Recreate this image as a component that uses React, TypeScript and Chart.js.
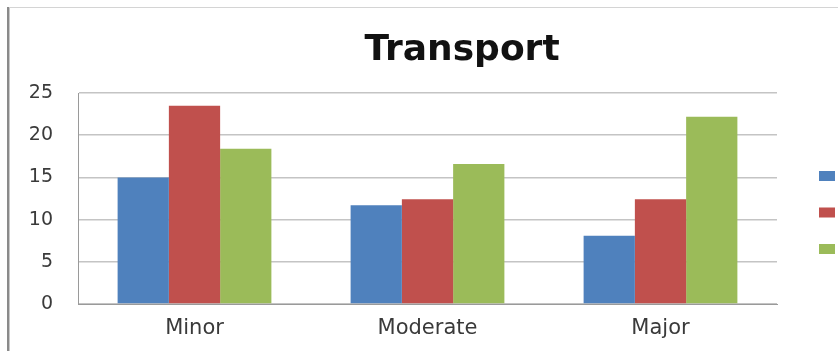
import React, { useEffect, useRef } from "react";
import { Chart, registerables } from "chart.js";

Chart.register(...registerables);

const title = "Transport";
const categories = ["Minor", "Moderate", "Major"];
const seriesNames = ["Series 1", "Series 2", "Series 3"];
const series1 = [15, 11.7, 8.1];
const series2 = [23.5, 12.4, 12.4];
const series3 = [18.4, 16.6, 22.2];
const seriesColors = ["#4F81BD", "#C0504D", "#9BBB59"];
const yTicks = [0, 5, 10, 15, 20, 25];

const W = 838;
const H = 351;

// Frame, title and the colour-key boxes on the right
const decorations = {
  id: "decorations",
  afterDraw(chart: Chart) {
    const ctx = chart.ctx;
    ctx.save();
    // frame edges
    ctx.fillStyle = "#d4d4d4";
    ctx.fillRect(7, 7, W - 7, 1);
    ctx.fillStyle = "#8a8a8a";
    ctx.fillRect(7, 7, 2, H - 7);
    ctx.fillStyle = "#c8c8c8";
    ctx.fillRect(9, 8, 1, H - 8);

    // title
    ctx.fillStyle = "#111111";
    ctx.font = "bold 36px 'DejaVu Sans'";
    ctx.textAlign = "center";
    ctx.textBaseline = "alphabetic";
    ctx.fillText(title, 462, 60);

    // key boxes
    chart.data.datasets.forEach((ds, i) => {
      ctx.fillStyle = ds.backgroundColor as string;
      ctx.fillRect(819, 171 + i * 36.5, 16, 10);
    });
    ctx.restore();
  },
};

export default function App() {
  const ref = useRef<HTMLCanvasElement | null>(null);

  useEffect(() => {
    if (!ref.current) return;
    const values = [series1, series2, series3];
    const chart = new Chart(ref.current, {
      type: "bar",
      data: {
        labels: categories,
        datasets: values.map((v, i) => ({
          label: seriesNames[i],
          data: v,
          backgroundColor: seriesColors[i],
          borderWidth: 0,
          barPercentage: 1,
          categoryPercentage: 0.66,
        })),
      },
      options: {
        animation: false,
        responsive: false,
        maintainAspectRatio: false,
        devicePixelRatio: 1,
        layout: { padding: { left: 8, top: 93, right: 61, bottom: 0 } },
        plugins: {
          legend: { display: false },
          title: { display: false },
          tooltip: { enabled: false },
        },
        scales: {
          x: {
            grid: { display: false, drawTicks: false },
            border: { display: true, color: "#9a9a9a", width: 1 },
            ticks: {
              color: "#3a3a3a",
              font: { family: "'DejaVu Sans'", size: 21 },
              padding: 12,
              maxRotation: 0,
            },
            afterFit: (s: any) => {
              s.height = 47;
            },
          },
          y: {
            min: 0,
            max: 25,
            afterBuildTicks: (s: any) => {
              s.ticks = yTicks.map((v) => ({ value: v }));
            },
            grid: { color: "#c4c4c4", lineWidth: 1.5, drawTicks: false },
            border: { display: true, color: "#9a9a9a", width: 1 },
            ticks: {
              color: "#3a3a3a",
              font: { family: "'DejaVu Sans'", size: 19 },
              padding: 25,
            },
            afterFit: (s: any) => {
              s.width = 70;
            },
          },
        },
      },
      plugins: [decorations],
    });
    return () => chart.destroy();
  }, []);

  return (
    <div style={{ position: "fixed", left: 0, top: 0, width: W, height: H, background: "#ffffff" }}>
      <canvas ref={ref} width={W} height={H} style={{ width: W, height: H, display: "block" }} />
    </div>
  );
}
